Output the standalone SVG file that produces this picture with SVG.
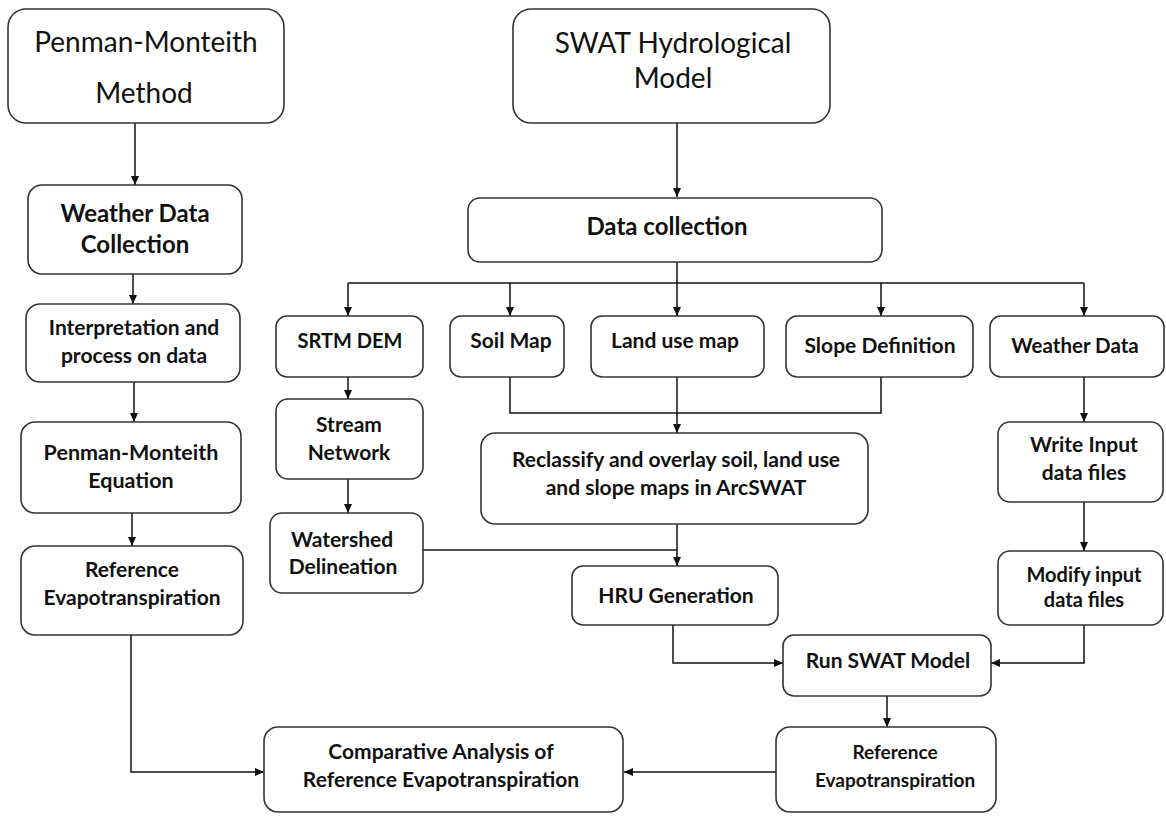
<svg xmlns="http://www.w3.org/2000/svg" width="1166" height="816" viewBox="0 0 1166 816">
<defs>
<marker id="ah" markerWidth="10" markerHeight="10" refX="9" refY="5" orient="auto" markerUnits="userSpaceOnUse">
<path d="M0,1 L9,5 L0,9 Z" fill="#111"/>
</marker>
<style>
.box{fill:#fff;stroke:#333;stroke-width:1.6}
.t{font-family:Lato,"Liberation Sans",sans-serif;font-weight:bold;fill:#111;text-anchor:middle;font-size:21px}
.tt{font-family:Lato,"Liberation Sans",sans-serif;font-weight:normal;fill:#111;text-anchor:middle;font-size:28px}
.c{fill:none;stroke:#111;stroke-width:1.5}
.a{marker-end:url(#ah)}
</style>
</defs>
<rect width="1166" height="816" fill="#fff"/>
<g id="connectors">
<path class="c a" d="M135,123 V185"/>
<path class="c a" d="M133,274 V304"/>
<path class="c a" d="M134,382 V422"/>
<path class="c a" d="M132,513 V546"/>
<path class="c a" d="M131,635 V772 H264"/>
<path class="c a" d="M677,123 V197"/>
<path class="c" d="M677,262 V283"/>
<path class="c" d="M348,283 H1084"/>
<path class="c a" d="M348,283 V316"/>
<path class="c a" d="M510,283 V316"/>
<path class="c a" d="M677,283 V316"/>
<path class="c a" d="M881,283 V316"/>
<path class="c a" d="M1084,283 V316"/>
<path class="c a" d="M348,377 V399"/>
<path class="c a" d="M348,479 V513"/>
<path class="c" d="M510,377 V413 H881 V377"/>
<path class="c a" d="M677,377 V433"/>
<path class="c" d="M423,550 H677"/>
<path class="c a" d="M677,524 V566"/>
<path class="c a" d="M1084,377 V422"/>
<path class="c a" d="M1084,502 V551"/>
<path class="c a" d="M673,625 V663 H783"/>
<path class="c a" d="M1084,625 V663 H991"/>
<path class="c a" d="M887,696 V727"/>
<path class="c a" d="M776,772 H624"/>
</g>
<g id="pm-method"><rect class="box" x="8" y="9" width="276" height="114" rx="18"/><text class="tt" x="146" y="52">Penman-Monteith</text><text class="tt" x="144" y="103">Method</text></g>
<g id="weather-collection"><rect class="box" x="28" y="185" width="214" height="89" rx="14"/><text class="t" x="135" y="222" style="font-size:24px">Weather Data</text><text class="t" x="135" y="253" style="font-size:24px">Collection</text></g>
<g id="interpretation"><rect class="box" x="26" y="304" width="214" height="78" rx="14"/><text class="t" x="134" y="335">Interpretation and</text><text class="t" x="134" y="363">process on data</text></g>
<g id="pm-equation"><rect class="box" x="21" y="422" width="220" height="91" rx="14"/><text class="t" x="131" y="460" style="font-size:21.5px">Penman-Monteith</text><text class="t" x="131" y="488" style="font-size:21.5px">Equation</text></g>
<g id="ref-left"><rect class="box" x="21" y="546" width="222" height="89" rx="14"/><text class="t" x="132" y="577">Reference</text><text class="t" x="132" y="605">Evapotranspiration</text></g>
<g id="swat"><rect class="box" x="513" y="9" width="317" height="114" rx="18"/><text class="tt" x="673" y="53">SWAT Hydrological</text><text class="tt" x="673" y="88">Model</text></g>
<g id="data-collection"><rect class="box" x="468" y="198" width="414" height="64" rx="12"/><text class="t" x="667" y="235" style="font-size:24px">Data collection</text></g>
<g id="srtm"><rect class="box" x="276" y="316" width="147" height="61" rx="11"/><text class="t" x="350" y="348" style="font-size:20px">SRTM DEM</text></g>
<g id="stream"><rect class="box" x="276" y="399" width="147" height="80" rx="12"/><text class="t" x="349" y="432">Stream</text><text class="t" x="349" y="460">Network</text></g>
<g id="watershed"><rect class="box" x="270" y="513" width="153" height="80" rx="12"/><text class="t" x="342" y="547">Watershed</text><text class="t" x="343" y="574">Delineation</text></g>
<g id="soil"><rect class="box" x="450" y="316" width="114" height="61" rx="11"/><text class="t" x="511" y="348">Soil Map</text></g>
<g id="landuse"><rect class="box" x="591" y="316" width="173" height="61" rx="11"/><text class="t" x="675" y="348">Land use map</text></g>
<g id="slope"><rect class="box" x="786" y="316" width="187" height="61" rx="11"/><text class="t" x="880" y="353">Slope Definition</text></g>
<g id="weather-data"><rect class="box" x="990" y="316" width="174" height="61" rx="11"/><text class="t" x="1075" y="353" style="font-size:20.5px">Weather Data</text></g>
<g id="reclassify"><rect class="box" x="481" y="433" width="387" height="91" rx="14"/><text class="t" x="676" y="467">Reclassify and overlay soil, land use</text><text class="t" x="676" y="495">and slope maps in ArcSWAT</text></g>
<g id="hru"><rect class="box" x="572" y="566" width="206" height="59" rx="11"/><text class="t" x="676" y="603">HRU Generation</text></g>
<g id="write-input"><rect class="box" x="998" y="422" width="165" height="80" rx="12"/><text class="t" x="1084" y="452">Write Input</text><text class="t" x="1084" y="480">data files</text></g>
<g id="modify-input"><rect class="box" x="998" y="551" width="165" height="74" rx="12"/><text class="t" x="1084" y="582" style="font-size:20px">Modify input</text><text class="t" x="1084" y="607" style="font-size:20px">data files</text></g>
<g id="run-swat"><rect class="box" x="783" y="635" width="208" height="61" rx="11"/><text class="t" x="888" y="668">Run SWAT Model</text></g>
<g id="ref-right"><rect class="box" x="776" y="727" width="220" height="85" rx="14"/><text class="t" x="895" y="759" style="font-size:19px">Reference</text><text class="t" x="895" y="787" style="font-size:19px">Evapotranspiration</text></g>
<g id="comparative"><rect class="box" x="264" y="727" width="359" height="85" rx="14"/><text class="t" x="441" y="759">Comparative Analysis of</text><text class="t" x="441" y="787">Reference Evapotranspiration</text></g>
</svg>
